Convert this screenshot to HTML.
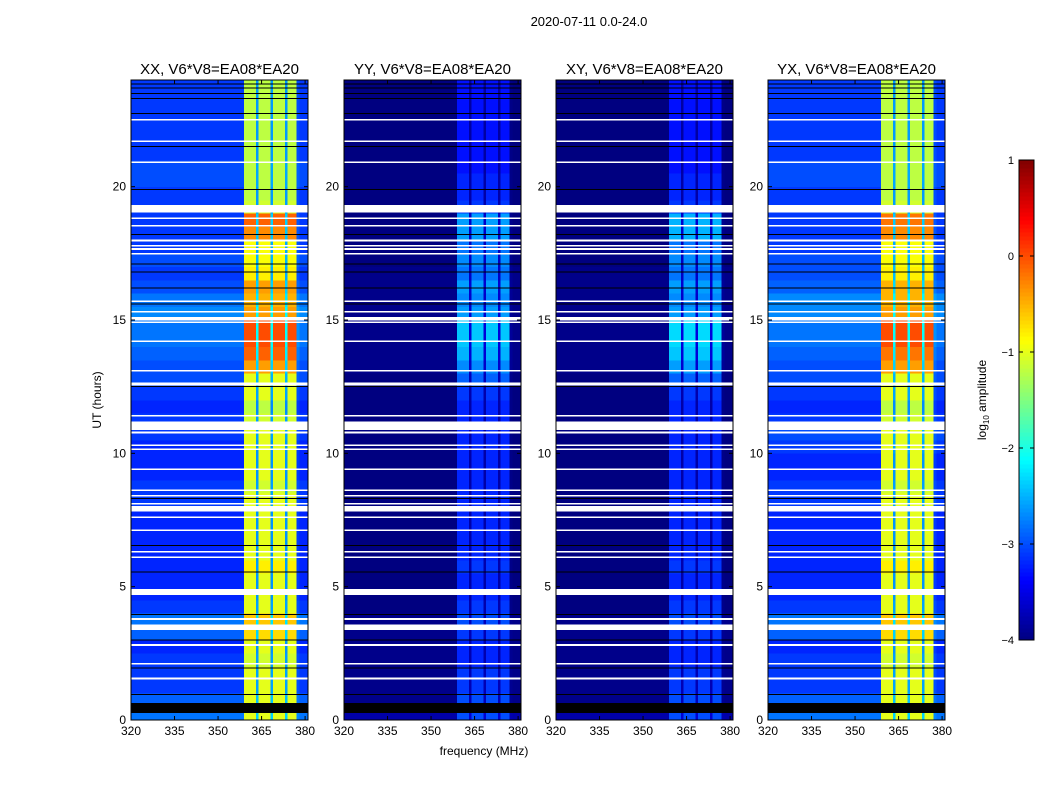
<!DOCTYPE html>
<html><head><meta charset="utf-8"><style>
body{margin:0;background:#fff;}
svg{display:block;font-family:"Liberation Sans",sans-serif;}
</style></head><body>
<svg id="fig" width="1050" height="800" viewBox="0 0 1050 800">
<text x="589" y="26" font-size="13" text-anchor="middle">2020-07-11 0.0-24.0</text>
<text x="484" y="755" font-size="12" text-anchor="middle">frequency (MHz)</text>
<text x="0" y="0" font-size="12" text-anchor="middle" transform="translate(101,400) rotate(-90)">UT (hours)</text>
<g id="panels"></g>
<g id="cbar"></g>
</svg>
<script>
// ---- data ----
const panelNames = ["XX", "YY", "XY", "YX"];
const freqBins = [];   // 1 MHz bins 320..380
for (let f = 320; f <= 380; f++) freqBins.push(f);
const bandProfile = [ // per 1 MHz bin: 0 background, 1 band, fraction = gap
0,0,0,0,0,0,0,0,0,0, 0,0,0,0,0,0,0,0,0,0, 0,0,0,0,0,0,0,0,0,0,
0,0,0,0,0,0,0,0,0,1, 1,1,1,0.25,1,1,1,1,0.25,1, 1,1,1,0.25,1,1,1,0.05,0,0, 0];
// half-hour rows (index 0 = 0.0-0.5 h), log10 amplitude
const bgXX = [-2.8,-2.9,-3.1,-3.1,-3.1,-3.2,-2.9,-2.8,-3.1,-3.2,-3.2,-3.2,-3.2,-3.2,-3.2,-3.2,-3.1,-3.1,-3.2,-3.2,-3.2,-3.1,-3.1,-3.2,-3.1,-3.0,-3.0,-2.9,-2.8,-2.8,-2.7,-2.8,-3.0,-3.1,-3.0,-3.1,-3.1,-3.1,-3.1,-3.1,-3.0,-3.0,-3.1,-3.1,-3.1,-3.1,-3.1,-3.1];
const bandXX = [-1.0,-1.0,-1.0,-1.0,-1.1,-1.0,-0.7,-0.6,-1.0,-1.0,-1.0,-0.8,-1.0,-1.0,-1.0,-1.0,-1.0,-1.1,-1.0,-1.0,-1.0,-1.0,-1.1,-1.2,-1.0,-1.0,-0.4,-0.1,0.0,0.0,-0.4,-0.5,-0.4,-0.8,-0.9,-0.9,-0.3,-0.1,-1.1,-1.2,-1.2,-1.2,-1.2,-1.2,-1.2,-1.2,-1.2,-1.2];
const bgYY = [-3.8,-3.95,-3.95,-3.95,-3.95,-3.95,-3.95,-3.95,-4.0,-4.0,-4.0,-4.0,-4.0,-4.0,-4.0,-4.0,-4.0,-4.0,-4.0,-4.0,-4.0,-4.0,-4.0,-4.0,-4.0,-4.0,-3.95,-3.95,-3.95,-3.95,-3.95,-3.95,-3.95,-3.95,-4.0,-4.0,-4.0,-4.0,-4.0,-4.0,-4.0,-4.0,-4.0,-4.0,-4.0,-4.0,-4.0,-4.0];
const bandYY = [-3.0,-3.0,-3.1,-3.1,-3.2,-3.2,-3.1,-3.0,-3.1,-3.2,-3.2,-3.1,-3.2,-3.2,-3.2,-3.2,-3.2,-3.2,-3.2,-3.2,-3.2,-3.2,-3.2,-3.2,-3.1,-2.9,-2.7,-2.5,-2.4,-2.4,-2.6,-2.7,-2.6,-2.8,-2.7,-2.8,-2.6,-2.6,-3.1,-3.2,-3.2,-3.3,-3.3,-3.3,-3.3,-3.3,-3.3,-3.3];
const bgXY = bgYY.slice();
const bandXY = [-3.0,-3.0,-3.1,-3.1,-3.2,-3.2,-3.1,-3.0,-3.1,-3.2,-3.2,-3.1,-3.2,-3.2,-3.2,-3.2,-3.2,-3.2,-3.2,-3.2,-3.2,-3.2,-3.2,-3.2,-3.1,-2.9,-2.6,-2.4,-2.3,-2.3,-2.6,-2.7,-2.6,-2.8,-2.7,-2.8,-2.5,-2.5,-3.1,-3.2,-3.2,-3.3,-3.3,-3.3,-3.3,-3.3,-3.3,-3.3];
const bgYX = [-2.8,-2.9,-3.1,-3.1,-3.1,-3.2,-2.9,-2.8,-3.1,-3.2,-3.2,-3.2,-3.2,-3.2,-3.2,-3.2,-3.1,-3.1,-3.2,-3.2,-3.1,-3.0,-3.1,-3.2,-3.1,-3.0,-3.0,-2.9,-2.8,-2.8,-2.7,-2.7,-2.9,-3.0,-3.0,-3.1,-3.1,-3.1,-3.1,-3.1,-3.0,-3.0,-3.1,-3.1,-3.1,-3.1,-3.1,-3.1];
const bandYX = [-1.0,-1.0,-1.0,-1.0,-1.1,-1.0,-0.7,-0.6,-1.0,-1.0,-1.0,-0.8,-1.0,-1.0,-1.0,-1.0,-1.0,-1.1,-1.0,-1.0,-1.0,-1.0,-1.1,-1.2,-1.0,-1.0,-0.4,-0.2,0.0,0.0,-0.4,-0.5,-0.5,-0.8,-0.9,-0.9,-0.3,-0.2,-1.1,-1.2,-1.2,-1.2,-1.2,-1.2,-1.2,-1.2,-1.2,-1.2];
// flagged (white) time ranges [start,end] hours
const whiteGaps = [[1.52,1.6],[2.08,2.14],[2.78,2.85],[3.38,3.58],[3.75,3.82],[4.68,4.92],[6.08,6.14],[6.28,6.34],[7.08,7.14],[7.58,7.64],[7.82,8.02],[8.08,8.14],[8.38,8.44],[8.58,8.64],[9.38,9.44],[10.12,10.18],[10.28,10.34],[10.75,10.82],[10.88,11.2],[11.38,11.44],[12.55,12.65],[13.06,13.12],[14.18,14.24],[14.88,14.94],[14.98,15.12],[15.28,15.34],[15.68,15.74],[17.45,17.52],[17.62,17.7],[17.75,17.82],[17.95,18.02],[18.5,18.56],[18.78,18.84],[19.04,19.32],[20.88,20.94],[21.68,21.74],[22.48,22.54]];
// dropped (black) data: thin lines and the thick block
const blackLines = [0.95,1.95,3.0,3.95,5.55,6.55,8.3,12.5,15.6,16.2,16.8,17.1,18.2,19.9,21.5,22.75,23.3,23.5,23.7,23.85];
const blackBlocks = [[0.26,0.64]];
const xTicks = [320, 335, 350, 365, 380];
const yTicks = [0, 5, 10, 15, 20];
const cbarTicks = [1, 0, -1, -2, -3, -4];
// ---- layout ----
const NS = "http://www.w3.org/2000/svg";
const panelLeft = [131, 344, 556, 768], PW = 177, PT = 80, PH = 640;
const fMin = 320, fMax = 381, tMin = 0, tMax = 24, vMin = -4, vMax = 1;
function jet(v) {
  let t = Math.max(0, Math.min(1, (v - vMin) / (vMax - vMin)));
  const c = x => Math.round(255 * Math.max(0, Math.min(1, 1.5 - Math.abs(4 * t - x))));
  return `rgb(${c(3)},${c(2)},${c(1)})`;
}
function mk(tag, attrs, parent) { const e = document.createElementNS(NS, tag); for (const k in attrs) e.setAttribute(k, attrs[k]); parent.appendChild(e); return e; }
const panelsG = document.getElementById("panels");
const bgs = [bgXX, bgYY, bgXY, bgYX], bands = [bandXX, bandYY, bandXY, bandYX];
panelNames.forEach((name, p) => {
  const L = panelLeft[p];
  const xs = f => L + (f - fMin) / (fMax - fMin) * PW;
  const ys = t => PT + PH - (t - tMin) / (tMax - tMin) * PH;
  const g = mk("g", {}, panelsG);
  
  
  const hm = mk("g", {"shape-rendering": "crispEdges"}, g);
  
  
  const bg = bgs[p], bd = bands[p];
  for (let r = 0; r < bg.length; r++) {
    const t0 = r * 0.5, t1 = t0 + 0.5;
    for (let c = 0; c < freqBins.length; c++) {
      const f0 = freqBins[c], f1 = Math.min(f0 + 1, fMax);
      const v = bg[r] + bandProfile[c] * (bd[r] - bg[r]);
      const rc = mk("rect", {x: xs(f0), y: ys(t1), width: xs(f1) - xs(f0) + 0.3, height: ys(t0) - ys(t1) + 0.3, fill: jet(v)}, hm);
      
      
    }
  }
  whiteGaps.forEach(w => {
    const e = mk("rect", {x: L, y: ys(w[1]), width: PW, height: Math.max(1.5, ys(w[0]) - ys(w[1])), fill: "#fff"}, hm);
    
    
  });
  blackLines.forEach(h => {
    const e = mk("rect", {x: L, y: ys(h) - 0.5, width: PW, height: 1, fill: "#000"}, hm);
    
    
  });
  blackBlocks.forEach(b => {
    const e = mk("rect", {x: L, y: ys(b[1]), width: PW, height: ys(b[0]) - ys(b[1]), fill: "#000"}, hm);
    
    
  });
  const fr = mk("rect", {x: L, y: PT, width: PW, height: PH, fill: "none", stroke: "#000", "stroke-width": 1}, g);
  
  
  const tt = mk("text", {x: L + PW / 2, y: PT - 6, "font-size": 15, "text-anchor": "middle"}, g);
  tt.textContent = name + ", V6*V8=EA08*EA20";
  
  
  xTicks.forEach(f => {
    const x = xs(f);
    mk("line", {x1: x, x2: x, y1: PT + PH, y2: PT + PH - 4, stroke: "#000"}, g);
    mk("line", {x1: x, x2: x, y1: PT, y2: PT + 4, stroke: "#000"}, g);
    const tx = mk("text", {x: x, y: PT + PH + 15, "font-size": 12, "text-anchor": "middle"}, g);
    tx.textContent = f;
    
    
  });
  yTicks.forEach(t => {
    const y = ys(t);
    mk("line", {x1: L, x2: L + 4, y1: y, y2: y, stroke: "#000"}, g);
    mk("line", {x1: L + PW, x2: L + PW - 4, y1: y, y2: y, stroke: "#000"}, g);
    const tx = mk("text", {x: L - 5, y: y + 4, "font-size": 12, "text-anchor": "end"}, g);
    tx.textContent = t;
    
    
  });
});
// colorbar
const cb = document.getElementById("cbar");
const CX = 1019, CW = 15, CT = 160, CH = 480;
const cy = v => CT + (vMax - v) / (vMax - vMin) * CH;
for (let i = 0; i < 120; i++) {
  const v0 = vMin + (vMax - vMin) * i / 120, v1 = vMin + (vMax - vMin) * (i + 1) / 120;
  const e = mk("rect", {x: CX, y: cy(v1), width: CW, height: cy(v0) - cy(v1) + 0.5, fill: jet((v0 + v1) / 2), "shape-rendering": "crispEdges"}, cb);
  
  
}
mk("rect", {x: CX, y: CT, width: CW, height: CH, fill: "none", stroke: "#000"}, cb);
cbarTicks.forEach(v => {
  const y = cy(v);
  mk("line", {x1: CX, x2: CX + 4, y1: y, y2: y, stroke: "#000"}, cb);
  mk("line", {x1: CX + CW, x2: CX + CW - 4, y1: y, y2: y, stroke: "#000"}, cb);
  const tx = mk("text", {x: CX - 5, y: y + 4, "font-size": 11, "text-anchor": "end"}, cb);
  tx.textContent = v < 0 ? "\u2212" + Math.abs(v) : String(v);
  
  
});
const cl = mk("text", {transform: "translate(986,400) rotate(-90)", "font-size": 12, "text-anchor": "middle"}, cb);
cl.innerHTML = 'log<tspan font-size="8" dy="3">10</tspan><tspan dy="-3"> amplitude</tspan>';


</script>
</body></html>
